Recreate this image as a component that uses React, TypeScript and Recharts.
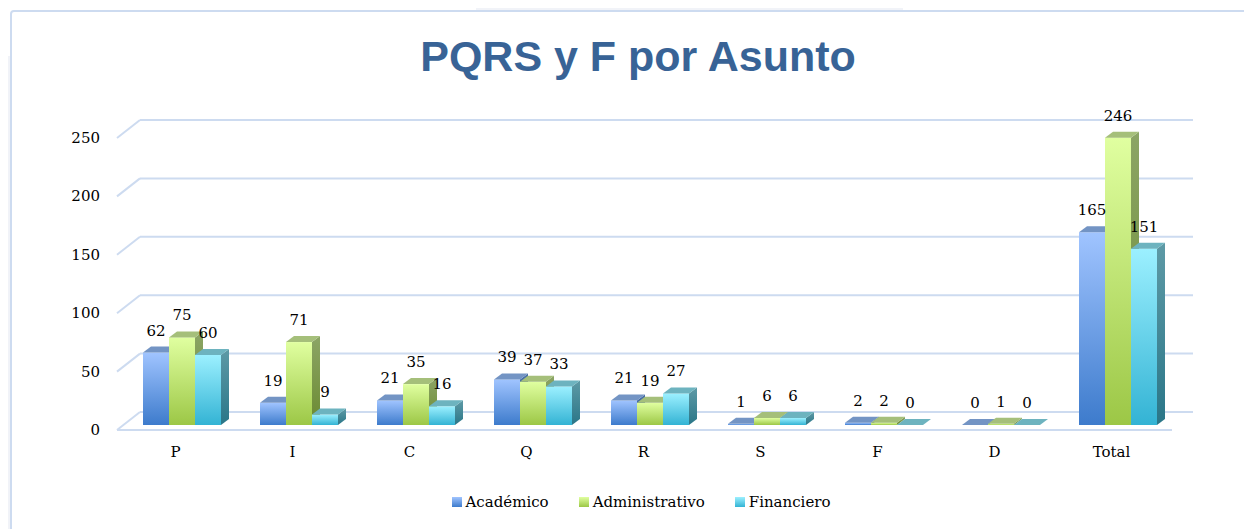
import { BarChart, Bar, XAxis, YAxis, CartesianGrid, LabelList } from 'recharts'

const categories = ['P', 'I', 'C', 'Q', 'R', 'S', 'F', 'D', 'Total']
const academico = [62, 19, 21, 39, 21, 1, 2, 0, 165]
const administrativo = [75, 71, 35, 37, 19, 6, 2, 1, 246]
const financiero = [60, 9, 16, 33, 27, 6, 0, 0, 151]
const yTicks = [0, 50, 100, 150, 200, 250]

const chartData = categories.map((c, i) => ({
  name: c,
  Académico: academico[i],
  Administrativo: administrativo[i],
  Financiero: financiero[i],
}))

// 3d look: bars sit a little behind the front plane
const SHIFT_X = 6
const SHIFT_Y = -5
const DEPTH_X = 8
const DEPTH_Y = -6
const WALL_X = 23
const WALL_Y = -18
const GRID = '#cddbf0'

const palette: Record<string, { top: string; bottom: string; lid: string; side: string; sideDark: string }> = {
  Académico: { top: '#a0c4ff', bottom: '#3d7bcc', lid: '#7394c4', side: '#4a70a8', sideDark: '#2f5a96' },
  Administrativo: { top: '#e0ffa0', bottom: '#9cc746', lid: '#a5bf7a', side: '#8ca566', sideDark: '#6a8a30' },
  Financiero: { top: '#9cf0ff', bottom: '#33b3d4', lid: '#6db3bf', side: '#5e9aa6', sideDark: '#2a7688' },
}

function Bar3D(props: any) {
  const { x, y, width, height, dataKey } = props
  const c = palette[dataKey]
  const x0 = x + SHIFT_X
  const y0 = y + SHIFT_Y
  const h = Math.max(height, 0)
  const id = `g-${dataKey}`.replace(/[^a-zA-Z-]/g, '')
  return (
    <g>
      <defs>
        <linearGradient id={id} x1="0" y1="0" x2="0" y2="1">
          <stop offset="0%" stopColor={c.top} />
          <stop offset="100%" stopColor={c.bottom} />
        </linearGradient>
        <linearGradient id={id + 's'} x1="0" y1="0" x2="0" y2="1">
          <stop offset="0%" stopColor={c.side} />
          <stop offset="100%" stopColor={c.sideDark} />
        </linearGradient>
      </defs>
      {h > 0 && <rect x={x0} y={y0} width={width} height={h} fill={`url(#${id})`} />}
      {h > 0 && (
        <polygon
          points={`${x0 + width},${y0} ${x0 + width + DEPTH_X},${y0 + DEPTH_Y} ${x0 + width + DEPTH_X},${y0 + h + DEPTH_Y} ${x0 + width},${y0 + h}`}
          fill={`url(#${id}s)`}
        />
      )}
      <polygon
        points={`${x0},${y0} ${x0 + width},${y0} ${x0 + width + DEPTH_X},${y0 + DEPTH_Y} ${x0 + DEPTH_X},${y0 + DEPTH_Y}`}
        fill={c.lid}
      />
    </g>
  )
}

function ValueLabel(props: any) {
  const { x, y, width, value } = props
  return (
    <text
      x={x + width / 2 + SHIFT_X}
      y={y + SHIFT_Y - 17}
      textAnchor="middle"
      fontFamily="DejaVu Serif"
      fontSize={15}
      fill="#000"
    >
      {value}
    </text>
  )
}

function GridLine(props: any) {
  const { x1, x2, y1, index } = props
  return (
    <g key={`gl-${index}`}>
      <line x1={x1 + WALL_X} y1={y1 + WALL_Y} x2={x2 + WALL_X} y2={y1 + WALL_Y} stroke={GRID} strokeWidth={2} />
      <line x1={x1} y1={y1} x2={x1 + WALL_X} y2={y1 + WALL_Y} stroke={GRID} strokeWidth={2} />
      {index === 0 && <line x1={x1} y1={y1} x2={x2 + 2} y2={y1} stroke={GRID} strokeWidth={2} />}
    </g>
  )
}

function XTick(props: any) {
  const { x, y, payload } = props
  return (
    <text x={x} y={y + 27} textAnchor="middle" fontFamily="DejaVu Serif" fontSize={15} fill="#000">
      {payload.value}
    </text>
  )
}

function YTick(props: any) {
  const { x, y, payload } = props
  return (
    <text x={x - 17} y={y + 5} textAnchor="end" fontFamily="DejaVu Serif" fontSize={15} fill="#000">
      {payload.value}
    </text>
  )
}

const legendItems = [
  { name: 'Académico', c: palette['Académico'] },
  { name: 'Administrativo', c: palette['Administrativo'] },
  { name: 'Financiero', c: palette['Financiero'] },
]

export default function App() {
  return (
    <div style={{ position: 'relative', width: 1244, height: 521, overflow: 'hidden', background: '#fff' }}>
      <div style={{ position: 'absolute', left: 468, top: -8, width: 427, height: 10, background: '#f1f3f8' }} />
      <div style={{ position: 'absolute', left: -8, top: 48, width: 10, height: 500, background: '#f1f3f8' }} />
      <div
        style={{
          position: 'absolute',
          left: 2,
          top: 2,
          width: 1300,
          height: 600,
          border: `2px solid ${GRID}`,
          borderRadius: 4,
          boxSizing: 'border-box',
        }}
      />
      <div
        style={{
          position: 'absolute',
          left: 0,
          top: 24,
          width: 1260,
          textAlign: 'center',
          fontFamily: 'Liberation Sans, Arial, sans-serif',
          fontWeight: 'bold',
          fontSize: 43,
          color: '#386396',
        }}
      >
        PQRS y F por Asunto
      </div>
      <div style={{ position: 'absolute', left: 0, top: 0 }}>
        <BarChart
          width={1244}
          height={521}
          data={chartData}
          margin={{ top: 130, right: 82, left: 9, bottom: 69 }}
          barCategoryGap={20}
          barGap={0}
        >
          <CartesianGrid horizontal={GridLine} vertical={false} />
          <XAxis dataKey="name" axisLine={false} tickLine={false} tickSize={0} tickMargin={0} height={30} tick={<XTick />} interval={0} />
          <YAxis
            domain={[0, 250]}
            ticks={yTicks}
            axisLine={false}
            tickLine={false}
            tickSize={0}
            tickMargin={0}
            width={100}
            tick={<YTick />}
          />
          <Bar dataKey="Académico" shape={<Bar3D />} isAnimationActive={false}>
            <LabelList dataKey="Académico" content={<ValueLabel />} />
          </Bar>
          <Bar dataKey="Administrativo" shape={<Bar3D />} isAnimationActive={false}>
            <LabelList dataKey="Administrativo" content={<ValueLabel />} />
          </Bar>
          <Bar dataKey="Financiero" shape={<Bar3D />} isAnimationActive={false}>
            <LabelList dataKey="Financiero" content={<ValueLabel />} />
          </Bar>
        </BarChart>
      </div>
      <div
        style={{
          position: 'absolute',
          left: 2,
          top: 485,
          width: 1262,
          display: 'flex',
          justifyContent: 'center',
          gap: 30,
          fontFamily: 'DejaVu Serif',
          fontSize: 15,
          color: '#000',
        }}
      >
        {legendItems.map((l) => (
          <div key={l.name} style={{ display: 'flex', alignItems: 'center', gap: 4 }}>
            <span
              style={{
                display: 'inline-block',
                width: 10,
                height: 10,
                background: `linear-gradient(${l.c.top}, ${l.c.bottom})`,
              }}
            />
            <span>{l.name}</span>
          </div>
        ))}
      </div>
    </div>
  )
}
